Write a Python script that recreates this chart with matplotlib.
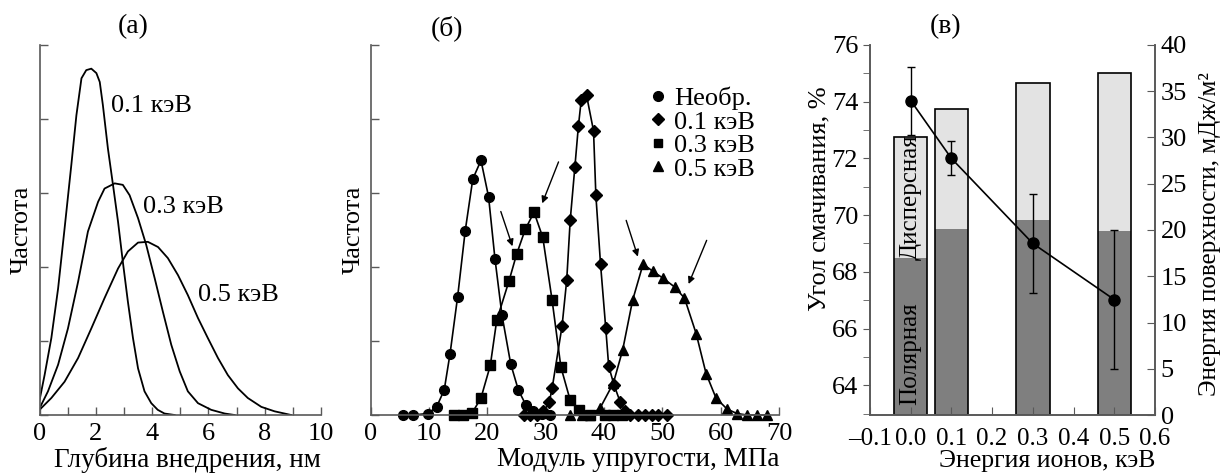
import numpy as np
import matplotlib
matplotlib.use('Agg')
import matplotlib.pyplot as plt
from matplotlib.lines import Line2D
from matplotlib.ticker import MultipleLocator

plt.rcParams['font.family'] = ['Liberation Serif', 'DejaVu Serif']
plt.rcParams['font.size'] = 19

# --- (а) depth distributions ---
d01_x = [0.0, 0.18, 0.42, 0.66, 0.89, 1.13, 1.31, 1.49, 1.66, 1.84, 2.02, 2.14, 2.25, 2.43,
         2.61, 2.79, 2.96, 3.14, 3.32, 3.5, 3.73, 3.97, 4.2, 4.44, 4.8]
d01_y = [0.2, 0.54, 1.04, 1.71, 2.52, 3.38, 4.05, 4.55, 4.66, 4.68, 4.62, 4.5, 4.19, 3.6,
         3.11, 2.61, 2.07, 1.53, 1.04, 0.63, 0.32, 0.16, 0.07, 0.02, 0.0]
d03_x = [0.0, 0.3, 0.66, 1.01, 1.37, 1.72, 2.08, 2.31, 2.67, 2.96, 3.2, 3.5, 3.79, 4.09,
         4.38, 4.68, 4.98, 5.27, 5.63, 6.1, 6.58, 6.93]
d03_y = [0.09, 0.32, 0.68, 1.17, 1.8, 2.48, 2.88, 3.06, 3.13, 3.11, 2.97, 2.66, 2.3, 1.85,
         1.4, 0.95, 0.59, 0.32, 0.16, 0.07, 0.02, 0.0]
d05_x = [0.0, 0.42, 0.89, 1.37, 1.84, 2.31, 2.79, 3.14, 3.5, 3.85, 4.21, 4.56, 4.92, 5.27,
         5.63, 5.98, 6.34, 6.69, 7.05, 7.4, 7.88, 8.35, 8.94]
d05_y = [0.07, 0.23, 0.45, 0.77, 1.17, 1.58, 1.98, 2.21, 2.33, 2.34, 2.27, 2.12, 1.89, 1.62,
         1.31, 1.04, 0.77, 0.54, 0.36, 0.23, 0.11, 0.05, 0.0]
depth_labels = ['0.1 кэВ', '0.3 кэВ', '0.5 кэВ']

# --- (б) modulus distributions ---
m0_x = [5.6, 7.2, 9.8, 11.3, 12.6, 13.6, 14.9, 16.2, 17.5, 18.9, 20.2, 21.3, 22.5, 24.0,
        25.3, 26.6, 27.9, 29.3, 30.7]
m0_y = [0, 0, 0.02, 0.11, 0.34, 0.83, 1.6, 2.49, 3.19, 3.44, 2.95, 2.11, 1.35, 0.69,
        0.34, 0.135, 0.05, 0.01, 0]
m1_x = [26.2, 27.3, 28.5, 29.6, 30.6, 31.1, 32.8, 33.6, 34.2, 35.0, 35.6, 36.1, 37.0, 38.2,
        38.6, 39.4, 40.3, 40.8, 41.7, 42.8, 43.6, 44.5, 45.9, 47.0, 48.2, 49.3, 50.8]
m1_y = [0, 0, 0, 0.05, 0.17, 0.36, 1.2, 1.82, 2.63, 3.35, 3.9, 4.26, 4.32, 3.84,
        2.97, 2.04, 1.17, 0.66, 0.41, 0.17, 0.06, 0, 0, 0, 0, 0, 0]
m3_x = [14.2, 15.9, 17.4, 18.9, 20.5, 21.6, 23.7, 25.0, 26.5, 28.0, 29.5, 31.1, 32.6, 34.2,
        35.7, 37.6, 40.2, 41.6, 43.0]
m3_y = [0, 0, 0.03, 0.23, 0.67, 1.28, 1.81, 2.17, 2.51, 2.74, 2.40, 1.55, 0.65, 0.2,
        0.07, 0, 0, 0, 0]
m5_x = [34.2, 36.2, 37.6, 39.3, 41.6, 43.2, 44.9, 46.7, 48.4, 50.1, 52.1, 53.8, 55.8, 57.5,
        59.2, 61.1, 62.8, 64.5, 66.2, 67.9]
m5_y = [0, 0, 0, 0.09, 0.43, 0.88, 1.55, 2.04, 1.94, 1.85, 1.73, 1.58, 1.10, 0.56,
        0.23, 0.08, 0.02, 0, 0, 0]
mod_labels = ['Необр.', '0.1 кэВ', '0.3 кэВ', '0.5 кэВ']
# arrows: (start x, start y, end x, end y)
mod_arrows = [(22.3, 2.75, 24.3, 2.28), (32.2, 3.42, 29.4, 2.86),
              (43.8, 2.63, 45.8, 2.14), (57.6, 2.36, 54.5, 1.77)]

# --- (в) wetting angle & surface energy ---
energy = [0.0, 0.1, 0.3, 0.5]
angle = [74.04, 72.0, 69.0, 67.02]
angle_err = [1.2, 0.6, 1.73, 2.44]
polar = [17.0, 20.07, 21.08, 19.89]
total = [30.1, 33.05, 35.93, 37.0]
energy_ticks = [-0.1, 0.0, 0.1, 0.2, 0.3, 0.4, 0.5, 0.6]
energy_ticklabels = ['–0.1', '0.0', '0.1', '0.2', '0.3', '0.4', '0.5', '0.6']

spine_col = '0.35'

fig = plt.figure(figsize=(12.2, 4.73), dpi=100)
ax_a = fig.add_axes([0.0324, 0.1226, 0.2307, 0.7823])
ax_b = fig.add_axes([0.3039, 0.1226, 0.3346, 0.7823])
ax_c = fig.add_axes([0.7131, 0.1226, 0.2336, 0.7823])


def style_axes(ax):
    for s in ['top', 'right']:
        ax.spines[s].set_visible(False)
    for s in ['left', 'bottom']:
        ax.spines[s].set_color(spine_col)
        ax.spines[s].set_linewidth(1.2)
    ax.tick_params(which='both', direction='in', length=6, width=1, color=spine_col, pad=4)
    ax.tick_params(axis='x', which='both', pad=6)


# (а)
style_axes(ax_a)
ax_a.plot(d01_x, d01_y, color='k', lw=1.3)
ax_a.plot(d03_x, d03_y, color='k', lw=1.3)
ax_a.plot(d05_x, d05_y, color='k', lw=1.3)
ax_a.text(2.55, 4.17, depth_labels[0], va='center', ha='left')
ax_a.text(3.68, 2.81, depth_labels[1], va='center', ha='left')
ax_a.text(5.63, 1.62, depth_labels[2], va='center', ha='left')
ax_a.set_xlim(0, 10)
ax_a.set_ylim(0, 5)
ax_a.xaxis.set_major_locator(MultipleLocator(2))
ax_a.xaxis.set_minor_locator(MultipleLocator(1))
ax_a.set_yticks(range(6))
ax_a.set_yticklabels([])
ax_a.set_xlabel('Глубина внедрения, нм', loc='right', labelpad=1, fontsize=19.5)
ax_a.set_ylabel('Частота', labelpad=1)
ax_a.text(0.332, 1.049, '(а)', transform=ax_a.transAxes, ha='center', va='center', fontsize=20)

# (б)
style_axes(ax_b)
kw = dict(color='k', lw=1.2, clip_on=False)
ax_b.plot(m0_x, m0_y, marker='o', ms=7, **kw)
ax_b.plot(m1_x, m1_y, marker='D', ms=6.5, **kw)
ax_b.plot(m3_x, m3_y, marker='s', ms=6.5, **kw)
ax_b.plot(m5_x, m5_y, marker='^', ms=7.5, **kw)
for x0, y0, x1, y1 in mod_arrows:
    ax_b.annotate('', xy=(x1, y1), xytext=(x0, y0),
                  arrowprops=dict(arrowstyle='-|>', color='k', lw=1, mutation_scale=10,
                                  shrinkA=0, shrinkB=0))
ax_b.set_xlim(0, 70)
ax_b.set_ylim(0, 5)
ax_b.xaxis.set_major_locator(MultipleLocator(10))
ax_b.set_yticks(range(6))
ax_b.set_yticklabels([])
ax_b.set_xlabel('Модуль упругости, МПа', loc='right', labelpad=1, fontsize=19.5)
ax_b.set_ylabel('Частота', labelpad=0)
ax_b.text(0.186, 1.046, '(б)', transform=ax_b.transAxes, ha='center', va='center', fontsize=20)
handles = [Line2D([], [], ls='none', marker=m, color='k', ms=s)
           for m, s in zip(['o', 'D', 's', '^'], [7, 6, 6, 7])]
ax_b.legend(handles, mod_labels, loc='upper left', bbox_to_anchor=(0.652, 0.923),
            frameon=False, handlelength=0.6, handletextpad=0.3, borderpad=0,
            labelspacing=0.0, fontsize=19)

# (в)
ax_r = ax_c.twinx()
ax_c.set_zorder(ax_r.get_zorder() + 1)
ax_c.patch.set_visible(False)
bw = 0.082
ax_r.bar(energy, total, width=bw, color='#e3e3e3', lw=0)
ax_r.bar(energy, polar, width=bw, color='#7f7f7f', lw=0)
ax_r.bar(energy, total, width=bw, fill=False, edgecolor='k', lw=1.2)
ax_r.text(0.0, 23.6, 'Дисперсная', rotation=90, ha='center', va='center', fontsize=18)
ax_r.text(0.0, 6.6, 'Полярная', rotation=90, ha='center', va='center', fontsize=18)
ax_r.set_ylim(0, 40)
ax_r.set_yticks(range(0, 41, 5))
ax_r.set_ylabel('Энергия поверхности, мДж/м²', fontsize=18)
ax_r.yaxis.set_label_coords(1.155, 0.49)

ax_c.errorbar(energy, angle, yerr=angle_err, fmt='-o', color='k', ms=8, lw=1.2,
              elinewidth=1, capsize=3, capthick=1)
ax_c.set_xlim(-0.1, 0.6)
ax_c.set_ylim(62.95, 76)
ax_c.set_xticks(energy_ticks)
ax_c.set_xticklabels(energy_ticklabels, fontsize=18)
ax_c.set_yticks(range(64, 77, 2))
ax_c.yaxis.set_minor_locator(MultipleLocator(1))
ax_c.set_xlabel('Энергия ионов, кэВ', loc='right', labelpad=0, fontsize=18.5)
ax_c.set_ylabel('Угол смачивания, %')
ax_c.yaxis.set_label_coords(-0.14, 0.584)
ax_c.text(0.266, 1.049, '(в)', transform=ax_c.transAxes, ha='center', va='center', fontsize=20)

for ax in (ax_c, ax_r):
    ax.spines['top'].set_visible(False)
    for s in ['left', 'right', 'bottom']:
        ax.spines[s].set_color(spine_col)
        ax.spines[s].set_linewidth(1.2)
ax_c.tick_params(axis='x', which='both', direction='in', length=6, color=spine_col, pad=9)
ax_c.tick_params(axis='y', which='both', direction='out', length=5, color=spine_col)
ax_r.tick_params(axis='y', direction='in', length=6, color=spine_col, pad=4)

fig.savefig('out.png', dpi=100)
